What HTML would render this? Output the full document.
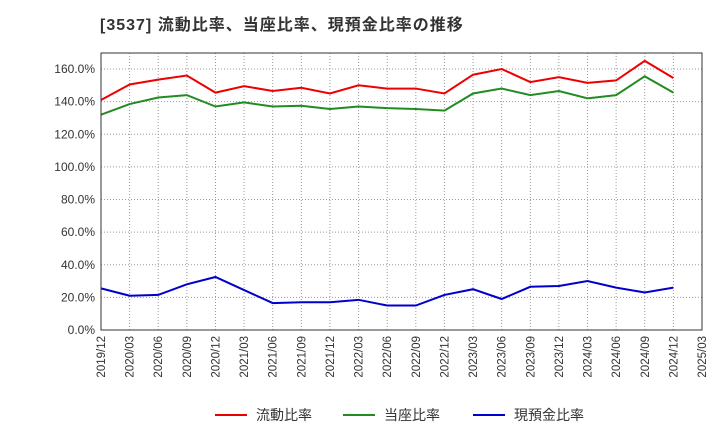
<!DOCTYPE html>
<html><head><meta charset="utf-8"><style>
body{margin:0;background:#fff;font-family:"Liberation Sans","Noto Sans CJK JP",sans-serif;}
</style></head><body>
<svg id="c" width="720" height="440" xmlns="http://www.w3.org/2000/svg">
<text x="100" y="30" font-size="16" letter-spacing="1" font-weight="bold" fill="#333">[3537]  流動比率、当座比率、現預金比率の推移</text>
<g id="grid"></g><g id="series"></g><g id="axes"></g>
<g font-size="14" fill="#333">
<line x1="215" y1="415" x2="247" y2="415" stroke="#e00" stroke-width="2"/><text x="256" y="420">流動比率</text>
<line x1="343" y1="415" x2="375" y2="415" stroke="#228b22" stroke-width="2"/><text x="384" y="420">当座比率</text>
<line x1="473" y1="415" x2="505" y2="415" stroke="#00c" stroke-width="2"/><text x="514" y="420">現預金比率</text>
</g>
</svg>
<script>
const categories=["2019/12","2020/03","2020/06","2020/09","2020/12","2021/03","2021/06","2021/09","2021/12","2022/03","2022/06","2022/09","2022/12","2023/03","2023/06","2023/09","2023/12","2024/03","2024/06","2024/09","2024/12","2025/03"];
const currentRatio=[141,150.5,153.5,156,145.5,149.5,146.5,148.5,145,150,148,148,145,156.5,160,152,155,151.5,153,165,154.5];
const quickRatio=[132,138.5,142.5,144,137,139.5,137,137.5,135.5,137,136,135.5,134.5,145,148,144,146.5,142,144,155.5,145.5];
const cashRatio=[25.5,21,21.5,28,32.5,24.5,16.5,17,17,18.5,15,15,21.5,25,19,26.5,27,30,26,23,26];
const yTicks=[0,20,40,60,80,100,120,140,160];
const NS="http://www.w3.org/2000/svg";
const L=101,R=702,T=53,B=330;
const xs=i=>L+i*(R-L)/(categories.length-1);
const ys=v=>B-v*(B-69)/160;
function mk(tag,attrs,parent){const e=document.createElementNS(NS,tag);for(const k in attrs)e.setAttribute(k,attrs[k]);document.getElementById(parent).appendChild(e);return e;}
mk('rect',{x:L,y:T,width:R-L,height:B-T,fill:'none',stroke:'#333'},'axes');
yTicks.forEach(v=>{
 const g=mk('line',{x1:L,x2:R,y1:ys(v),y2:ys(v),stroke:'#999','stroke-dasharray':'1,2'},'grid');
 
 
 const t=mk('text',{x:L-6,y:ys(v)+4,'text-anchor':'end','font-size':'12',fill:'#333'},'axes');
 t.textContent=v.toFixed(1)+'%';
 
 
});
categories.forEach((c,i)=>{
 const g=mk('line',{x1:xs(i),x2:xs(i),y1:T,y2:B,stroke:'#999','stroke-dasharray':'1,2'},'grid');
 
 
 const x=xs(i),y=B+6;
 const t=mk('text',{x:x+4,y:y,'text-anchor':'end','font-size':'11.5',fill:'#333',transform:`rotate(-90 ${x+4} ${y})`},'axes');
 t.textContent=c;
 
 
});
[[currentRatio,'#e00','current-ratio-line'],[quickRatio,'#228b22','quick-ratio-line'],[cashRatio,'#00c','cash-ratio-line']].forEach(([d,col,n])=>{
 const p=mk('polyline',{points:d.map((v,i)=>xs(i)+','+ys(v)).join(' '),fill:'none',stroke:col,'stroke-width':2},'series');
 
 
});
</script>
</body></html>
